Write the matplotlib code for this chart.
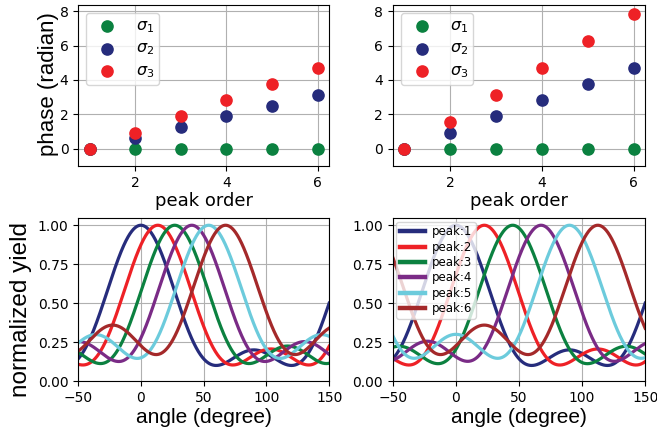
import numpy as np
import matplotlib
matplotlib.use('Agg')
import matplotlib.pyplot as plt

# orden de pico y fases (radianes)
peak_order = [1, 2, 3, 4, 5, 6]
sigma1_a = [0, 0, 0, 0, 0, 0]
sigma2_a = [0, 0.63, 1.26, 1.88, 2.51, 3.14]
sigma3_a = [0, 0.94, 1.88, 2.83, 3.77, 4.71]
sigma1_b = [0, 0, 0, 0, 0, 0]
sigma2_b = [0, 0.94, 1.88, 2.83, 3.77, 4.71]
sigma3_b = [0, 1.57, 3.14, 4.71, 6.28, 7.85]

peak_labels = ['peak:1', 'peak:2', 'peak:3', 'peak:4', 'peak:5', 'peak:6']
line_colors = ['#262c7c', '#ee2126', '#0b8140', '#7a2b86', '#6ccbdc', '#a4292a']
sc_colors = ['#0b8140', '#262c7c', '#ee2126']

angle = np.linspace(-50, 150, 801)


def yield_curve(s1, s2, s3):
    # interferencia de tres terminos con fondo constante
    x = 2 * np.deg2rad(angle)
    amp = np.exp(-1j * s1) + np.exp(1j * (x - s2)) + np.exp(1j * (2 * x - s3))
    y = np.abs(amp) ** 2 + 1
    return y / y.max()


fig = plt.figure(figsize=(6.57, 4.33), dpi=100)
ax1 = fig.add_axes([0.119, 0.617, 0.382, 0.371])
ax2 = fig.add_axes([0.598, 0.617, 0.384, 0.371])
ax3 = fig.add_axes([0.119, 0.120, 0.382, 0.376])
ax4 = fig.add_axes([0.598, 0.120, 0.384, 0.376])

for ax, s1, s2, s3 in [(ax1, sigma1_a, sigma2_a, sigma3_a), (ax2, sigma1_b, sigma2_b, sigma3_b)]:
    ax.scatter(peak_order, s1, s=65, color=sc_colors[0], label=r'$\sigma_1$', zorder=3)
    ax.scatter(peak_order, s2, s=65, color=sc_colors[1], label=r'$\sigma_2$', zorder=3)
    ax.scatter(peak_order, s3, s=65, color=sc_colors[2], label=r'$\sigma_3$', zorder=3)
    ax.set_ylim(-1, 8.35)
    ax.set_xlim(0.75, 6.25)
    ax.set_yticks([0, 2, 4, 6, 8])
    ax.set_xticks([2, 4, 6])
    ax.grid(True)
    ax.set_xlabel('peak order', fontsize=13, labelpad=2)
    ax.legend(loc='upper left', fontsize=11.5, labelspacing=0.38, borderpad=0.3)
    ax.tick_params(labelsize=10)
ax1.set_ylabel('phase (radian)', family='Liberation Sans', fontsize=16)
ax1.yaxis.set_label_coords(-0.075, 0.51)

for ax, s1, s2, s3 in [(ax3, sigma1_a, sigma2_a, sigma3_a), (ax4, sigma1_b, sigma2_b, sigma3_b)]:
    for k in range(len(peak_order)):
        ax.plot(angle, yield_curve(s1[k], s2[k], s3[k]), color=line_colors[k], lw=2.3,
                label=peak_labels[k])
    ax.set_xlim(-50, 150)
    ax.set_ylim(0, 1.045)
    ax.set_yticks([0, 0.25, 0.5, 0.75, 1.0])
    ax.set_xticks([-50, 0, 50, 100, 150])
    ax.grid(True)
    ax.set_xlabel('angle (degree)', family='Liberation Sans', fontsize=15, labelpad=2)
    ax.tick_params(labelsize=10)
ax3.set_ylabel('normalized yield', family='Liberation Sans', fontsize=17.5)
ax3.yaxis.set_label_coords(-0.183, 0.44)
leg = ax4.legend(loc='upper left', fontsize=8.5, handlelength=2.1, borderpad=0.3,
                 labelspacing=0.2, handletextpad=0.6, borderaxespad=0.3)
for line in leg.get_lines():
    line.set_linewidth(3.2)

fig.savefig('out.png', dpi=100)
